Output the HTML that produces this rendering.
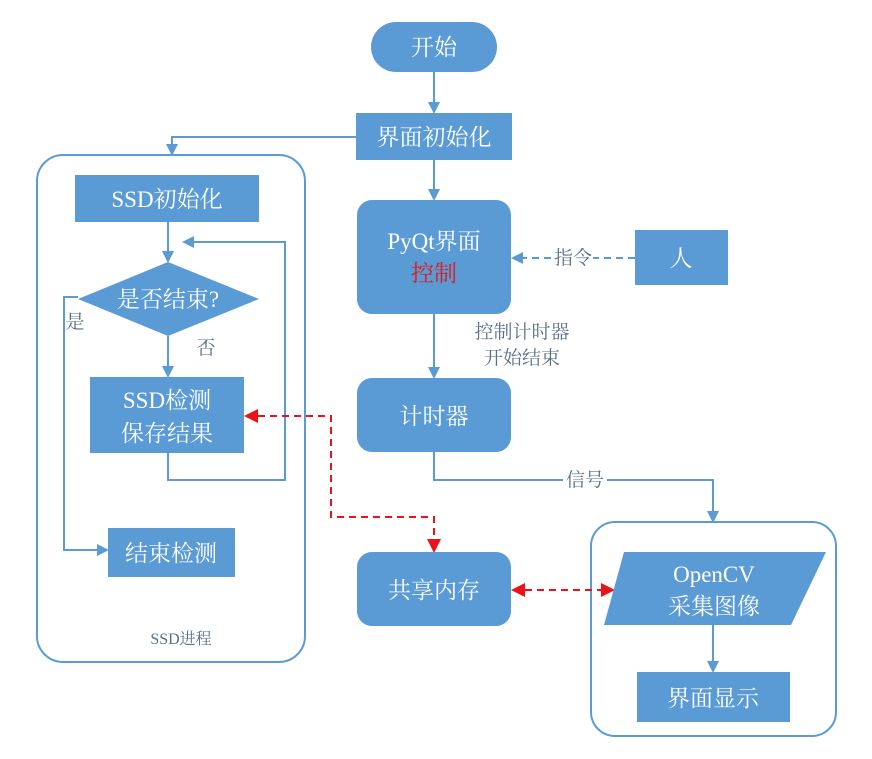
<!DOCTYPE html>
<html><head><meta charset="utf-8"><style>
html,body{margin:0;padding:0;background:#fff;}
svg{display:block;}
.n{fill:#5b9bd5;}
.t{font-family:"Liberation Serif","Noto Serif CJK SC",serif;font-size:23px;fill:#fff;text-anchor:middle;}
.l{font-family:"Liberation Serif","Noto Serif CJK SC",serif;font-size:19px;fill:#5a6f88;text-anchor:middle;}
.ln{stroke:#5b9bd5;stroke-width:2;fill:none;}
.rd{stroke:#e8141a;stroke-width:2;fill:none;stroke-dasharray:7 5;}
</style></head><body>
<svg width="872" height="759" viewBox="0 0 872 759" xmlns="http://www.w3.org/2000/svg">
<defs>
<marker id="a" markerWidth="12" markerHeight="12" refX="10" refY="6" orient="auto" markerUnits="userSpaceOnUse"><path d="M0,0 L12,6 L0,12 z" fill="#5b9bd5"/></marker>
<marker id="r" markerWidth="14" markerHeight="14" refX="12" refY="7" orient="auto-start-reverse" markerUnits="userSpaceOnUse"><path d="M0,0 L14,7 L0,14 z" fill="#e8141a"/></marker>
</defs>
<rect x="37" y="155" width="268" height="507" rx="26" class="ln"/>
<rect x="591" y="522" width="245" height="214" rx="24" class="ln"/>
<text x="181" y="644" class="l" style="font-size:16px">SSD进程</text>

<line x1="434" y1="72" x2="434" y2="112" class="ln" marker-end="url(#a)"/>
<polyline points="356,137 172,137 172,154" class="ln" marker-end="url(#a)"/>
<line x1="434" y1="160" x2="434" y2="199" class="ln" marker-end="url(#a)"/>
<line x1="168" y1="222" x2="168" y2="261" class="ln" marker-end="url(#a)"/>
<line x1="168" y1="336" x2="168" y2="376" class="ln" marker-end="url(#a)"/>
<polyline points="168,453 168,480 285,480 285,242 184,242" class="ln" marker-end="url(#a)"/>
<polyline points="78,297 64,297 64,550 107,550" class="ln" marker-end="url(#a)"/>
<line x1="635" y1="258" x2="513" y2="258" class="ln" stroke-dasharray="7 5" marker-end="url(#a)"/>
<line x1="434" y1="314" x2="434" y2="377" class="ln" marker-end="url(#a)"/>
<polyline points="434,452 434,480 713,480 713,521" class="ln" marker-end="url(#a)"/>
<line x1="713" y1="625" x2="713" y2="671" class="ln" marker-end="url(#a)"/>
<polyline points="246,416 331,416 331,517 434,517 434,551" class="rd" marker-start="url(#r)" marker-end="url(#r)"/>
<line x1="513" y1="590" x2="613" y2="590" class="rd" marker-start="url(#r)" marker-end="url(#r)"/>

<rect x="553" y="248" width="40" height="20" fill="#fff"/>
<text x="573" y="264" class="l">指令</text>
<text x="522" y="338" class="l">控制计时器</text>
<text x="522" y="364" class="l">开始结束</text>
<rect x="563" y="470" width="44" height="20" fill="#fff"/>
<text x="585" y="486" class="l">信号</text>
<text x="206" y="354" class="l">否</text>
<text x="75" y="328" class="l">是</text>

<rect x="371" y="22" width="126" height="50" rx="25" class="n"/>
<text x="434" y="55" class="t">开始</text>
<rect x="356" y="113" width="156" height="47" class="n"/>
<text x="434" y="145" class="t">界面初始化</text>
<rect x="75" y="175" width="184" height="47" class="n"/>
<text x="167" y="207" class="t">SSD初始化</text>
<polygon points="168,262 259,299 168,336 78,299" class="n"/>
<text x="168" y="307" class="t">是否结束?</text>
<rect x="90" y="377" width="154" height="76" class="n"/>
<text x="167" y="408" class="t">SSD检测</text>
<text x="167" y="441" class="t">保存结果</text>
<rect x="108" y="528" width="127" height="49" class="n"/>
<text x="171" y="561" class="t">结束检测</text>
<rect x="357" y="200" width="154" height="114" rx="15" class="n"/>
<text x="434" y="249" class="t">PyQt界面</text>
<text x="434" y="281" class="t" style="fill:#e01a1a">控制</text>
<rect x="635" y="230" width="93" height="55" class="n"/>
<text x="681" y="266" class="t">人</text>
<rect x="357" y="378" width="154" height="74" rx="15" class="n"/>
<text x="434" y="424" class="t">计时器</text>
<rect x="357" y="552" width="154" height="74" rx="15" class="n"/>
<text x="434" y="598" class="t">共享内存</text>
<polygon points="624,552 826,552 791,625 604,625" class="n"/>
<text x="714" y="582" class="t">OpenCV</text>
<text x="714" y="614" class="t">采集图像</text>
<rect x="637" y="672" width="153" height="50" class="n"/>
<text x="713" y="706" class="t">界面显示</text>
</svg>
</body></html>
